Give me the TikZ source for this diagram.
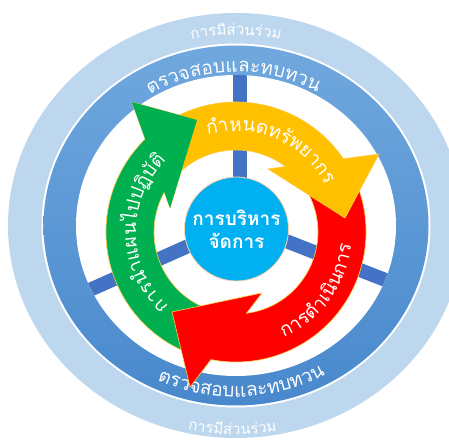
\documentclass[tikz,border=0pt]{standalone}
\usepackage{fontspec}
\newfontfamily\thaifont[Script=Thai]{Loma}
\usetikzlibrary{decorations.text}
\definecolor{bandlight}{RGB}{189,215,238}
\definecolor{ringtop}{RGB}{112,168,222}
\definecolor{ringbot}{RGB}{72,136,204}
\definecolor{spokeblue}{RGB}{68,114,196}
\definecolor{hubcyan}{RGB}{0,176,240}
\definecolor{arrgreen}{RGB}{0,176,80}
\definecolor{arryellow}{RGB}{255,192,0}
\definecolor{arrred}{RGB}{255,0,0}
\definecolor{glow}{RGB}{255,205,70}
\newcommand\ringfont{\thaifont\fontsize{19}{22}\selectfont}
\newcommand\bandfont{\thaifont\fontsize{15}{18}\selectfont}
\newcommand\arrowfont{\thaifont\fontsize{19}{22}\selectfont}
\tikzset{
  arrowband/.style={fill=#1, draw=glow, line width=0.6pt},
  curvedlabel/.style={decorate, decoration={text along path, text align=center, text color=white}},
}

\begin{document}
\begin{tikzpicture}[x=1pt, y=1pt]
  \useasboundingbox (-236,-213) rectangle (213,228);

  % Rings
  \begin{scope}[shift={(0,2.5)}]
    \fill[bandlight] (0,0) ellipse[x radius=228pt, y radius=212.5pt];
    \fill[white] (0,0) ellipse[x radius=194.5pt, y radius=182pt];
    \shade[top color=ringtop, bottom color=ringbot] (0,0) ellipse[x radius=192.5pt, y radius=180pt];
    \fill[white] (0,0) ellipse[x radius=160pt, y radius=150.5pt];

    % Spokes
    \begin{scope}
      \clip (0,0) ellipse[x radius=160pt, y radius=150.5pt];
      \coordinate (hub) at (4,2.5);
      \foreach \ang in {90, 204, -21.4}
        \draw[spokeblue, line width=14pt] (hub) -- ++(\ang:220);
    \end{scope}

    % Ring labels
    \path[curvedlabel, decoration={text={|\bandfont|การ{มี}{ส่}วน{ร่}วม}}]
      (150:204pt and 190.5pt) arc[start angle=150, end angle=30, x radius=204pt, y radius=190.5pt];
    \path[curvedlabel, decoration={text={|\ringfont|ตรวจสอบและทบทวน}}]
      (171:163.5pt and 153.5pt) arc[start angle=171, end angle=11, x radius=163.5pt, y radius=153.5pt];
    \path[curvedlabel, decoration={text={|\ringfont|ตรวจสอบและทบทวน}}]
      (197:182.6pt and 171.5pt) arc[start angle=197, end angle=347, x radius=182.6pt, y radius=171.5pt];
    \path[curvedlabel, decoration={text={|\bandfont|การ{มี}{ส่}วน{ร่}วม}}]
      (209:224pt and 209pt) arc[start angle=209, end angle=329, x radius=224pt, y radius=209pt];
  \end{scope}

  % Cycle arrows
  \begin{scope}[shift={(0,-4)}]
    \fill[arrowband=arrgreen] (250:130) arc[start angle=250, end angle=134.3, radius=130pt]
      -- (128.7:166.5) -- (109.2:118.6) -- (160:70.2) -- (150.9:82)
      arc[start angle=150.9, end angle=255, radius=82pt] -- cycle;
    \fill[arrowband=arrred] (30:130) arc[start angle=30, end angle=-101.1, radius=130pt]
      -- (-106.5:161.7) -- (-128.7:102.4) -- (-66.9:66.3) -- (-82.7:82)
      arc[start angle=-82.7, end angle=40, radius=82pt] -- cycle;
    \fill[arrowband=arryellow] (128:130) arc[start angle=128, end angle=34.3, radius=130pt]
      -- (28.6:162.9) -- (7.3:109.9) -- (63.1:70.7) -- (52.9:82)
      arc[start angle=52.9, end angle=138, radius=82pt] -- cycle;
    % green head over the yellow tail
    \fill[arrgreen] (128.7:166.5) -- (109.2:118.6) -- (160:70.2) -- cycle;

    % Arrow labels
    \path[curvedlabel, decoration={text={|\arrowfont|{กำ}หนดท{รั}พยากร}}]
      (127:101pt) arc[start angle=127, end angle=7, radius=101pt];
    \path[curvedlabel, decoration={text={|\arrowfont|การ{ดำ}เ{นิ}นการ}}]
      (-96:116pt) arc[start angle=-96, end angle=24, radius=116pt];
    \path[curvedlabel, decoration={text={|\arrowfont|การ{นำ}แผนไปป{ฏิ}{บั}{ติ}}}]
      (241:100pt) arc[start angle=241, end angle=121, radius=100pt];
  \end{scope}

  % Centre
  \node[circle, fill=hubcyan, draw=orange!35, line width=0.8pt, minimum size=104pt, inner sep=0pt,
    align=center, text=white, font=\thaifont\bfseries\fontsize{19}{23}\selectfont] (centre) at (0.5,-1)
    {การบริหาร\\จัดการ};
\end{tikzpicture}
\end{document}
